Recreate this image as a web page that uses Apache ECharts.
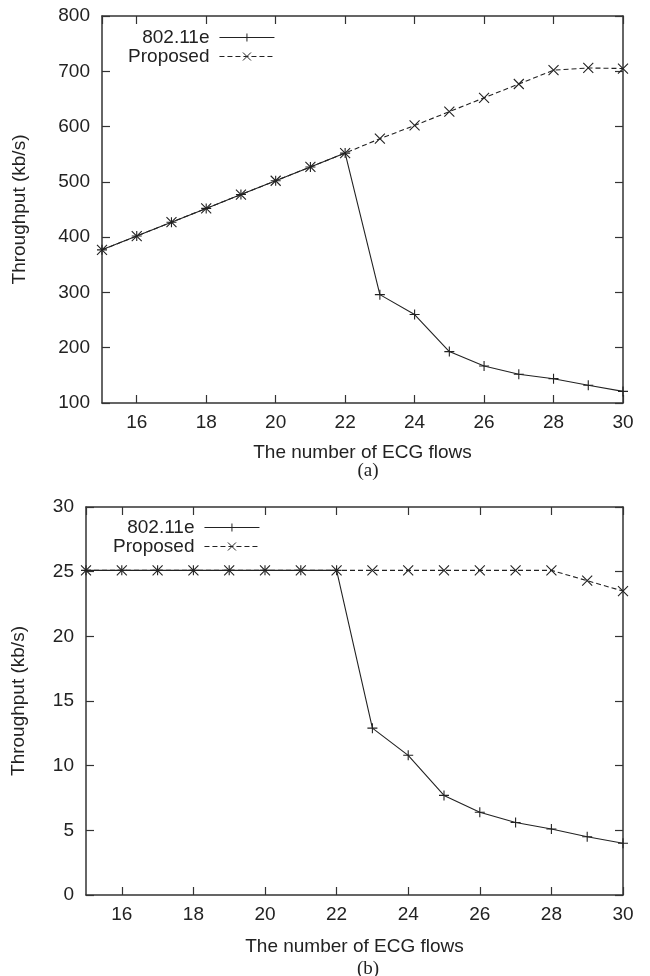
<!DOCTYPE html>
<html>
<head>
<meta charset="utf-8">
<script src="https://cdn.jsdelivr.net/npm/echarts@6/dist/echarts.min.js"></script>
<style>html,body{margin:0;padding:0;background:#fff}#c{width:650px;height:976px}</style>
</head>
<body>
<div id="c"></div>
<script>
var flows = [15,16,17,18,19,20,21,22,23,24,25,26,27,28,29,30];
var a_80211e   = [377,402,427,452,477,502,527,552,296,260,193,167,152,144,132,121];
var a_proposed = [377,402,427,452,477,502,527,552,578,602,627,652,677,702,706,705];
var b_80211e   = [25.1,25.1,25.1,25.1,25.1,25.1,25.1,25.1,12.9,10.8,7.7,6.4,5.6,5.1,4.5,4.0];
var b_proposed = [25.1,25.1,25.1,25.1,25.1,25.1,25.1,25.1,25.1,25.1,25.1,25.1,25.1,25.1,24.3,23.5];
var seriesNames = ['802.11e','Proposed'];
var xName = 'The number of ECG flows';
var yName = 'Throughput (kb/s)';
var captions = ['(a)','(b)'];

var FONT = 'Liberation Sans';
var INK = '#222';
var PLUS = 'path://M0,5L10,5M5,0L5,10';
var CROSS = 'path://M0,0L10,10M10,0L0,10';

function pairs(ys){ return flows.map(function(x,i){ return [x, ys[i]]; }); }

var grids = [
  {left:102, right:27, top:16, height:387},
  {left:86, right:27, top:507, height:388}
];
var yRanges = [[100,800,100],[0,30,5]];

var xAxes = [], yAxes = [];
[0,1].forEach(function(g){
  var base = {
    type:'value', gridIndex:g, min:15, max:30, splitNumber:8,
    axisLine:{show:true, onZero:false, lineStyle:{color:'#333', width:1.5}},
    axisTick:{show:true, inside:true, length:8, lineStyle:{color:'#333', width:1.2}},
    splitLine:{show:false}
  };
  xAxes.push(Object.assign({}, base, {
    position:'bottom', name:xName, nameLocation:'middle', nameGap: g===0?40:42,
    nameTextStyle:{fontFamily:FONT, fontSize:19, color:INK},
    axisLabel:{show:true, showMinLabel:false, margin:10, fontFamily:FONT, fontSize:19, color:INK}
  }));
  xAxes.push(Object.assign({}, base, {position:'top', axisLabel:{show:false}}));
  var r = yRanges[g];
  var ybase = {
    type:'value', gridIndex:g, min:r[0], max:r[1], interval:r[2],
    axisLine:{show:true, onZero:false, lineStyle:{color:'#333', width:1.5}},
    axisTick:{show:true, inside:true, length:8, lineStyle:{color:'#333', width:1.2}},
    splitLine:{show:false}
  };
  yAxes.push(Object.assign({}, ybase, {
    position:'left', name:yName, nameLocation:'middle', nameGap: g===0?73:58,
    nameTextStyle:{fontFamily:FONT, fontSize:19, color:INK},
    axisLabel:{show:true, margin:12, fontFamily:FONT, fontSize:19, color:INK}
  }));
  yAxes.push(Object.assign({}, ybase, {position:'right', axisLabel:{show:false}}));
});

function mk(name, data, g, dashed){
  return {
    type:'line', name:name, xAxisIndex:g*2, yAxisIndex:g*2, data:pairs(data),
    symbol: dashed ? CROSS : PLUS, symbolSize:10, showAllSymbol:true,
    itemStyle:{color:INK, borderColor:INK, borderWidth:1.1},
    lineStyle:{color:INK, width:1.1, type: dashed ? [5,3] : 'solid'},
    emphasis:{disabled:true}, animation:false, z: dashed?3:2
  };
}

var series = [
  mk(seriesNames[0], a_80211e, 0, false),
  mk(seriesNames[1], a_proposed, 0, true),
  mk(seriesNames[0], b_80211e, 1, false),
  mk(seriesNames[1], b_proposed, 1, true)
];

function legend(right, top){
  return {
    orient:'vertical', align:'right', right:right, top:top,
    itemWidth:55, itemHeight:10, itemGap:0,
    data:seriesNames, selectedMode:false,
    lineStyle:{width:1.1, color:INK},
    itemStyle:{borderWidth:1},
    textStyle:{fontFamily:FONT, fontSize:19, lineHeight:17, color:INK, padding:[0,5,0,0]}
  };
}

var chart = echarts.init(document.getElementById('c'), null, {renderer:'canvas'});
chart.setOption({
  animation:false,
  backgroundColor:'#fff',
  grid:grids,
  xAxis:xAxes,
  yAxis:yAxes,
  legend:[legend(370, 23), legend(385, 513)],
  title:[
    {text:captions[0], left:363, top:457, textAlign:'center', textStyle:{fontFamily:'Liberation Serif', fontSize:19, fontWeight:'normal', color:INK}},
    {text:captions[1], left:363, top:955, textAlign:'center', textStyle:{fontFamily:'Liberation Serif', fontSize:19, fontWeight:'normal', color:INK}}
  ],
  series:series
});
</script>
</body>
</html>
